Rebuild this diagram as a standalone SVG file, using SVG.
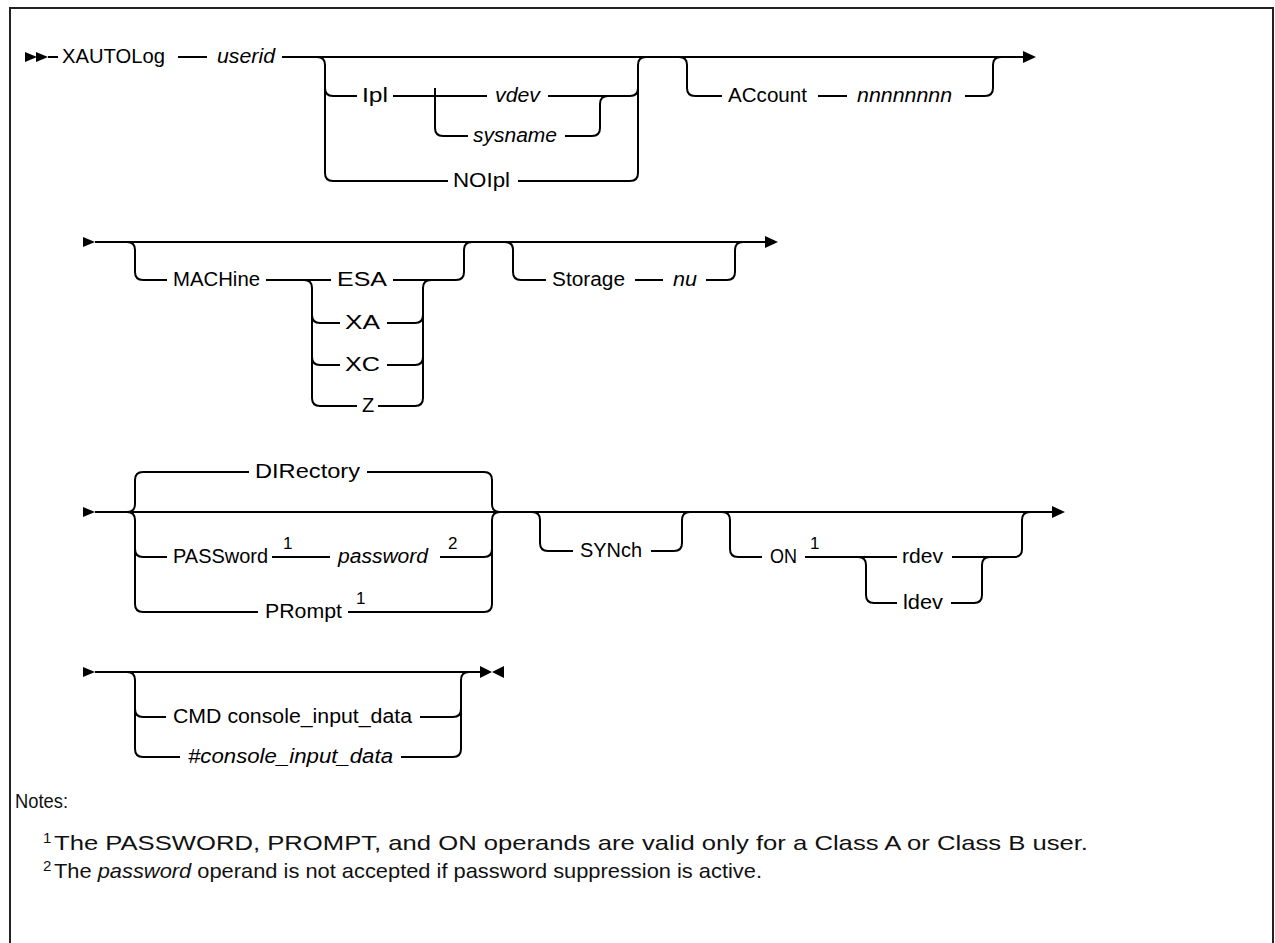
<svg xmlns="http://www.w3.org/2000/svg" width="1275" height="943" viewBox="0 0 1275 943">
<style>
.rail{fill:none;stroke:#000;stroke-width:2}
.lbl{font-family:"Liberation Sans",Arial,sans-serif;font-size:20px;fill:#000}
.it{font-style:italic}
.sup{font-family:"Liberation Sans",Arial,sans-serif;font-size:17px;fill:#000}
.note{font-family:"Liberation Sans",Arial,sans-serif;font-size:21px;fill:#111}
.nsup{font-family:"Liberation Sans",Arial,sans-serif;font-size:15px;fill:#111}
.ah{fill:#000}
</style>
<rect x="0" y="0" width="1275" height="943" fill="#fff"/>
<rect x="10" y="8" width="1263" height="1000" fill="none" stroke="#222" stroke-width="2"/>

<g id="connectors">
  <!-- Row 1 -->
  <polygon class="ah" points="25,52 37,57 25,62"/>
  <polygon class="ah" points="36,52 48,57 36,62"/>
  <path class="rail" d="M48 57 L58 57 M178 57 L207 57 M282 57 L1024 57"/>
  <polygon class="ah" points="1023,51 1036,57 1023,63"/>
  <!-- Ipl / NOIpl -->
  <path class="rail" d="M317 57 Q325 57 325 65 L325 173 Q325 181 333 181 L448 181"/>
  <path class="rail" d="M325 88 Q325 96 333 96 L357 96"/>
  <path class="rail" d="M393 96 L487 96"/>
  <path class="rail" d="M435 88 Q435 96 435 104 L435 128 Q435 136 443 136 L468 136"/>
  <path class="rail" d="M565 136 L592 136 Q600 136 600 128 L600 104 Q600 96 608 96"/>
  <path class="rail" d="M548 96 L630 96 Q638 96 638 88"/>
  <path class="rail" d="M518 181 L630 181 Q638 181 638 173 L638 65 Q638 57 646 57"/>
  <!-- ACcount -->
  <path class="rail" d="M679 57 Q687 57 687 65 L687 88 Q687 96 695 96 L722 96"/>
  <path class="rail" d="M818 96 L847 96"/>
  <path class="rail" d="M965 96 L985 96 Q993 96 993 88 L993 65 Q993 57 1001 57"/>

  <!-- Row 2 -->
  <polygon class="ah" points="83,237 95,242 83,247"/>
  <path class="rail" d="M95 242 L766 242"/>
  <polygon class="ah" points="765,236 778,242 765,248"/>
  <path class="rail" d="M127 242 Q135 242 135 250 L135 272 Q135 280 143 280 L167 280"/>
  <path class="rail" d="M266 280 L331 280 M393 280 L456 280 Q464 280 464 272 L464 250 Q464 242 472 242"/>
  <path class="rail" d="M304 280 Q312 280 312 288 L312 398 Q312 406 320 406 L357 406"/>
  <path class="rail" d="M312 315 Q312 323 320 323 L340 323"/>
  <path class="rail" d="M312 357 Q312 365 320 365 L340 365"/>
  <path class="rail" d="M431 280 Q423 280 423 288 L423 398 Q423 406 415 406 L378 406"/>
  <path class="rail" d="M387 323 L415 323 Q423 323 423 315"/>
  <path class="rail" d="M387 365 L415 365 Q423 365 423 357"/>
  <!-- Storage -->
  <path class="rail" d="M505 242 Q513 242 513 250 L513 272 Q513 280 521 280 L546 280"/>
  <path class="rail" d="M635 280 L663 280"/>
  <path class="rail" d="M706 280 L727 280 Q735 280 735 272 L735 250 Q735 242 743 242"/>

  <!-- Row 3 -->
  <polygon class="ah" points="83,507 95,512 83,517"/>
  <path class="rail" d="M95 512 L1053 512"/>
  <polygon class="ah" points="1052,506 1065,512 1052,518"/>
  <path class="rail" d="M127 512 Q135 512 135 504 L135 480 Q135 472 143 472 L249 472"/>
  <path class="rail" d="M367 472 L484 472 Q492 472 492 480 L492 504 Q492 512 500 512"/>
  <path class="rail" d="M127 512 Q135 512 135 520 L135 604 Q135 612 143 612 L258 612"/>
  <path class="rail" d="M135 549 Q135 557 143 557 L167 557"/>
  <path class="rail" d="M272 557 L330 557"/>
  <path class="rail" d="M440 557 L484 557 Q492 557 492 549"/>
  <path class="rail" d="M348 612 L484 612 Q492 612 492 604 L492 520 Q492 512 500 512"/>
  <!-- SYNch -->
  <path class="rail" d="M532 512 Q540 512 540 520 L540 543 Q540 551 548 551 L573 551"/>
  <path class="rail" d="M651 551 L674 551 Q682 551 682 543 L682 520 Q682 512 690 512"/>
  <!-- ON -->
  <path class="rail" d="M722 512 Q730 512 730 520 L730 549 Q730 557 738 557 L762 557"/>
  <path class="rail" d="M805 557 L897 557"/>
  <path class="rail" d="M858 557 Q866 557 866 565 L866 595 Q866 603 874 603 L897 603"/>
  <path class="rail" d="M951 603 L974 603 Q982 603 982 595 L982 565 Q982 557 990 557"/>
  <path class="rail" d="M952 557 L1014 557 Q1022 557 1022 549 L1022 520 Q1022 512 1030 512"/>

  <!-- Row 4 -->
  <polygon class="ah" points="83,667 95,672 83,677"/>
  <path class="rail" d="M95 672 L481 672"/>
  <polygon class="ah" points="480,666 492,672 480,678"/>
  <polygon class="ah" points="504,666 492,672 504,678"/>
  <path class="rail" d="M127 672 Q135 672 135 680 L135 749 Q135 757 143 757 L180 757"/>
  <path class="rail" d="M135 709 Q135 717 143 717 L166 717"/>
  <path class="rail" d="M420 717 L453 717 Q461 717 461 709"/>
  <path class="rail" d="M401 757 L453 757 Q461 757 461 749 L461 680 Q461 672 469 672"/>
</g>

<g id="n-xautolog"><text class="lbl" x="62" y="63" textLength="103" lengthAdjust="spacingAndGlyphs">XAUTOLog</text></g>
<g id="n-userid"><text class="lbl it" x="217" y="63" textLength="58" lengthAdjust="spacingAndGlyphs">userid</text></g>
<g id="n-ipl"><text class="lbl" x="362" y="102" textLength="26" lengthAdjust="spacingAndGlyphs">Ipl</text></g>
<g id="n-vdev"><text class="lbl it" x="495" y="102" textLength="45" lengthAdjust="spacingAndGlyphs">vdev</text></g>
<g id="n-sysname"><text class="lbl it" x="473" y="142" textLength="84" lengthAdjust="spacingAndGlyphs">sysname</text></g>
<g id="n-noipl"><text class="lbl" x="453" y="187" textLength="57" lengthAdjust="spacingAndGlyphs">NOIpl</text></g>
<g id="n-account"><text class="lbl" x="728" y="102" textLength="79" lengthAdjust="spacingAndGlyphs">ACcount</text></g>
<g id="n-nnn"><text class="lbl it" x="857" y="102" textLength="95" lengthAdjust="spacingAndGlyphs">nnnnnnnn</text></g>

<g id="n-machine"><text class="lbl" x="173" y="286" textLength="87" lengthAdjust="spacingAndGlyphs">MACHine</text></g>
<g id="n-esa"><text class="lbl" x="337" y="286" textLength="50" lengthAdjust="spacingAndGlyphs">ESA</text></g>
<g id="n-xa"><text class="lbl" x="345" y="329" textLength="35" lengthAdjust="spacingAndGlyphs">XA</text></g>
<g id="n-xc"><text class="lbl" x="345" y="371" textLength="35" lengthAdjust="spacingAndGlyphs">XC</text></g>
<g id="n-z"><text class="lbl" x="362" y="412">Z</text></g>
<g id="n-storage"><text class="lbl" x="552" y="286" textLength="73" lengthAdjust="spacingAndGlyphs">Storage</text></g>
<g id="n-nu"><text class="lbl it" x="673" y="286" textLength="24" lengthAdjust="spacingAndGlyphs">nu</text></g>

<g id="n-directory"><text class="lbl" x="255" y="478" textLength="105" lengthAdjust="spacingAndGlyphs">DIRectory</text></g>
<g id="n-password-kw"><text class="lbl" x="173" y="563" textLength="95" lengthAdjust="spacingAndGlyphs">PASSword</text><text class="sup" x="283" y="549">1</text></g>
<g id="n-password"><text class="lbl it" x="338" y="563" textLength="90" lengthAdjust="spacingAndGlyphs">password</text><text class="sup" x="448" y="549">2</text></g>
<g id="n-prompt"><text class="lbl" x="265" y="618" textLength="77" lengthAdjust="spacingAndGlyphs">PRompt</text><text class="sup" x="356" y="604">1</text></g>
<g id="n-synch"><text class="lbl" x="580" y="557" textLength="62" lengthAdjust="spacingAndGlyphs">SYNch</text></g>
<g id="n-on"><text class="lbl" x="770" y="563" textLength="27" lengthAdjust="spacingAndGlyphs">ON</text><text class="sup" x="810" y="549">1</text></g>
<g id="n-rdev"><text class="lbl" x="902" y="563" textLength="41" lengthAdjust="spacingAndGlyphs">rdev</text></g>
<g id="n-ldev"><text class="lbl" x="903" y="609" textLength="40" lengthAdjust="spacingAndGlyphs">ldev</text></g>

<g id="n-cmd"><text class="lbl" x="173" y="723" textLength="239" lengthAdjust="spacingAndGlyphs">CMD console_input_data</text></g>
<g id="n-hash"><text class="lbl it" x="188" y="763" textLength="205" lengthAdjust="spacingAndGlyphs">#console_input_data</text></g>

<g id="notes">
  <text class="note" x="15" y="808" textLength="53" lengthAdjust="spacingAndGlyphs">Notes:</text>
  <text class="nsup" x="43" y="843">1</text>
  <text class="note" x="54" y="850" textLength="1034" lengthAdjust="spacingAndGlyphs">The PASSWORD, PROMPT, and ON operands are valid only for a Class A or Class B user.</text>
  <text class="nsup" x="43" y="871">2</text>
  <text class="note" x="54" y="878" textLength="708" lengthAdjust="spacingAndGlyphs">The <tspan font-style="italic">password</tspan> operand is not accepted if password suppression is active.</text>
</g>
</svg>
